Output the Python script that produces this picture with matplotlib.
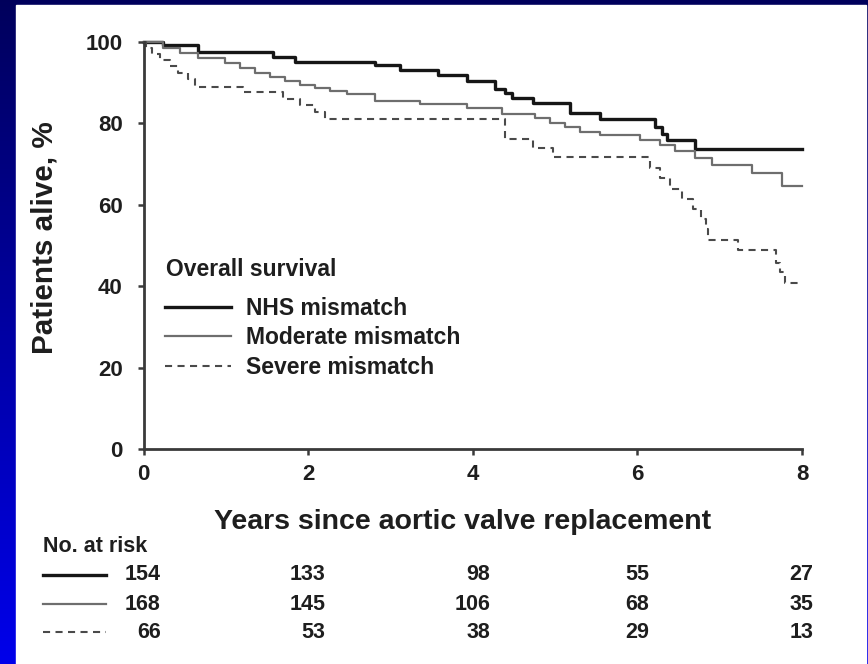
import numpy as np
import matplotlib
matplotlib.use("Agg")
import matplotlib.pyplot as plt
from matplotlib.patches import Rectangle
from matplotlib.transforms import offset_copy

plt.rcParams['font.family'] = ['Liberation Sans', 'DejaVu Sans']
plt.rcParams['font.weight'] = 'bold'

# Kaplan-Meier steps (years, % alive)
nhs_t = [0, 0.237, 0.662, 1.573, 1.841, 2.813, 3.117, 3.578, 3.930, 4.270, 4.392,
         4.477, 4.732, 5.182, 5.546, 6.214, 6.299, 6.360, 6.700]
nhs_s = [100, 99.2, 97.6, 96.2, 95.2, 94.4, 93.1, 91.9, 90.3, 88.5, 87.5,
         86.3, 85.0, 82.6, 81.1, 79.0, 77.5, 76.0, 73.8]

mod_t = [0, 0.237, 0.443, 0.662, 0.990, 1.172, 1.355, 1.537, 1.719, 1.901, 2.084,
         2.266, 2.472, 2.813, 3.359, 3.930, 4.356, 4.757, 4.939, 5.121, 5.303,
         5.546, 6.032, 6.275, 6.457, 6.700, 6.907, 7.393, 7.757]
mod_s = [100, 98.5, 97.3, 96.0, 94.9, 93.5, 92.5, 91.5, 90.5, 89.5, 88.8,
         88.0, 87.2, 85.6, 84.8, 83.9, 82.4, 81.4, 80.2, 79.0, 78.0,
         77.2, 76.0, 74.8, 73.3, 71.5, 69.8, 67.9, 64.5]

sev_t = [0, 0.030, 0.103, 0.200, 0.322, 0.419, 0.541, 0.626, 1.209, 1.695, 1.901,
         2.084, 2.205, 4.392, 4.732, 4.975, 6.154, 6.275, 6.397, 6.543, 6.676,
         6.773, 6.834, 6.858, 7.223, 7.684, 7.733, 7.794]
sev_s = [100, 98.5, 97.0, 95.5, 94.0, 92.5, 91.0, 89.0, 87.7, 86.0, 84.6,
         82.8, 81.0, 76.2, 74.0, 71.8, 69.0, 66.7, 64.0, 61.5, 59.0,
         56.4, 54.0, 51.3, 48.8, 45.8, 43.4, 40.7]

risk_years = [0, 2, 4, 6, 8]
risk_nhs = [154, 133, 98, 55, 27]
risk_mod = [168, 145, 106, 68, 35]
risk_sev = [66, 53, 38, 29, 13]

labels = ['NHS mismatch', 'Moderate mismatch', 'Severe mismatch']
t_end = 8.0

W, H = 868, 664
fig = plt.figure(figsize=(W / 100, H / 100), dpi=100)

# slide background: blue gradient with white panel
bg = fig.add_axes([0, 0, 1, 1])
grad = np.linspace(0, 1, 256)
cols = np.zeros((256, 1, 3))
cols[:, 0, 2] = 0.36 + 0.56 * grad
bg.imshow(cols, aspect='auto', extent=[0, W, H, 0])
bg.add_patch(Rectangle((16, 5), 850, H - 5, color='white', zorder=2))
bg.set_xlim(0, W)
bg.set_ylim(H, 0)
bg.axis('off')

x0, x1 = 143.5, 802
y0, y1 = 449, 42
ax = fig.add_axes([x0 / W, 1 - y0 / H, (x1 - x0) / W, (y0 - y1) / H])
ax.patch.set_alpha(0)

styles = [
    dict(color='#161616', lw=2.4, ls='-'),
    dict(color='#6e6e6e', lw=1.6, ls='-'),
    dict(color='#4a4a4a', lw=1.5, ls=(0, (3.4, 2.6))),
]
series = [(nhs_t, nhs_s), (mod_t, mod_s), (sev_t, sev_s)]
handles = []
for (t, s), st, lab in zip(series, styles, labels):
    tt = np.append(t, t_end)
    ss = np.append(s, s[-1])
    h, = ax.step(tt, ss, where='post', label=lab, clip_on=False, **st)
    handles.append(h)

ax.set_xlim(0, 8)
ax.set_ylim(0, 100)
ax.set_xticks([0, 2, 4, 6, 8])
ax.set_yticks([0, 20, 40, 60, 80, 100])
for sp in ['top', 'right']:
    ax.spines[sp].set_visible(False)
for sp in ['left', 'bottom']:
    ax.spines[sp].set_color('#3a3a3a')
    ax.spines[sp].set_linewidth(2.0)
ax.tick_params(axis='both', length=4, width=1.8, color='#3a3a3a',
               labelsize=16, labelcolor='#1e1e1e')
ax.tick_params(axis='y', pad=11)
ax.tick_params(axis='x', pad=7)

px_to_ax = lambda py: (y0 - py) / (y0 - y1)
px_to_x = lambda px: (px - x0) / (x1 - x0) * 8
tr = ax.get_xaxis_transform()

# legend block
ax.text(px_to_x(166), px_to_ax(270), 'Overall survival', transform=tr,
        ha='left', va='center', fontsize=16.5, color='#1e1e1e')
leg = ax.legend(handles=handles, loc='upper left',
                bbox_to_anchor=((165 - x0) / (x1 - x0), px_to_ax(297)),
                frameon=False, fontsize=16.5,
                handlelength=2.9, handletextpad=0.65, labelspacing=0.28,
                borderaxespad=0, borderpad=0)
for txt in leg.get_texts():
    txt.set_color('#1e1e1e')

# axis titles
ax.text(px_to_x(463), px_to_ax(522), 'Years since aortic valve replacement',
        transform=tr, ha='center', va='center',
        fontsize=20.5, color='#1e1e1e', clip_on=False)
fig.text(45 / W, 1 - 238 / H, 'Patients alive, %', rotation=90,
         ha='center', va='center', fontsize=21.3, color='#1e1e1e')

# number at risk table
ax.text(px_to_x(43), px_to_ax(547), 'No. at risk', transform=tr,
        ha='left', va='center', fontsize=15.5, color='#1e1e1e', clip_on=False)
rows = [risk_nhs, risk_mod, risk_sev]
row_y = [575, 604, 632]
for vals, py, st in zip(rows, row_y, styles):
    ax.plot([px_to_x(43), px_to_x(106)], [px_to_ax(py)] * 2, transform=tr,
            clip_on=False, **st)
for j, yr in enumerate(risk_years):
    col = [r[j] for r in rows]
    ndig = max(len(str(v)) for v in col)
    shift = ndig * 0.556 * 15 / 2
    ctr = offset_copy(tr, fig=fig, x=shift, y=0, units='points')
    for v, py in zip(col, row_y):
        ax.text(yr, px_to_ax(py), str(v), transform=ctr, ha='right',
                va='center', fontsize=15.5, color='#1e1e1e', clip_on=False)

fig.savefig('out.png', dpi=100)
